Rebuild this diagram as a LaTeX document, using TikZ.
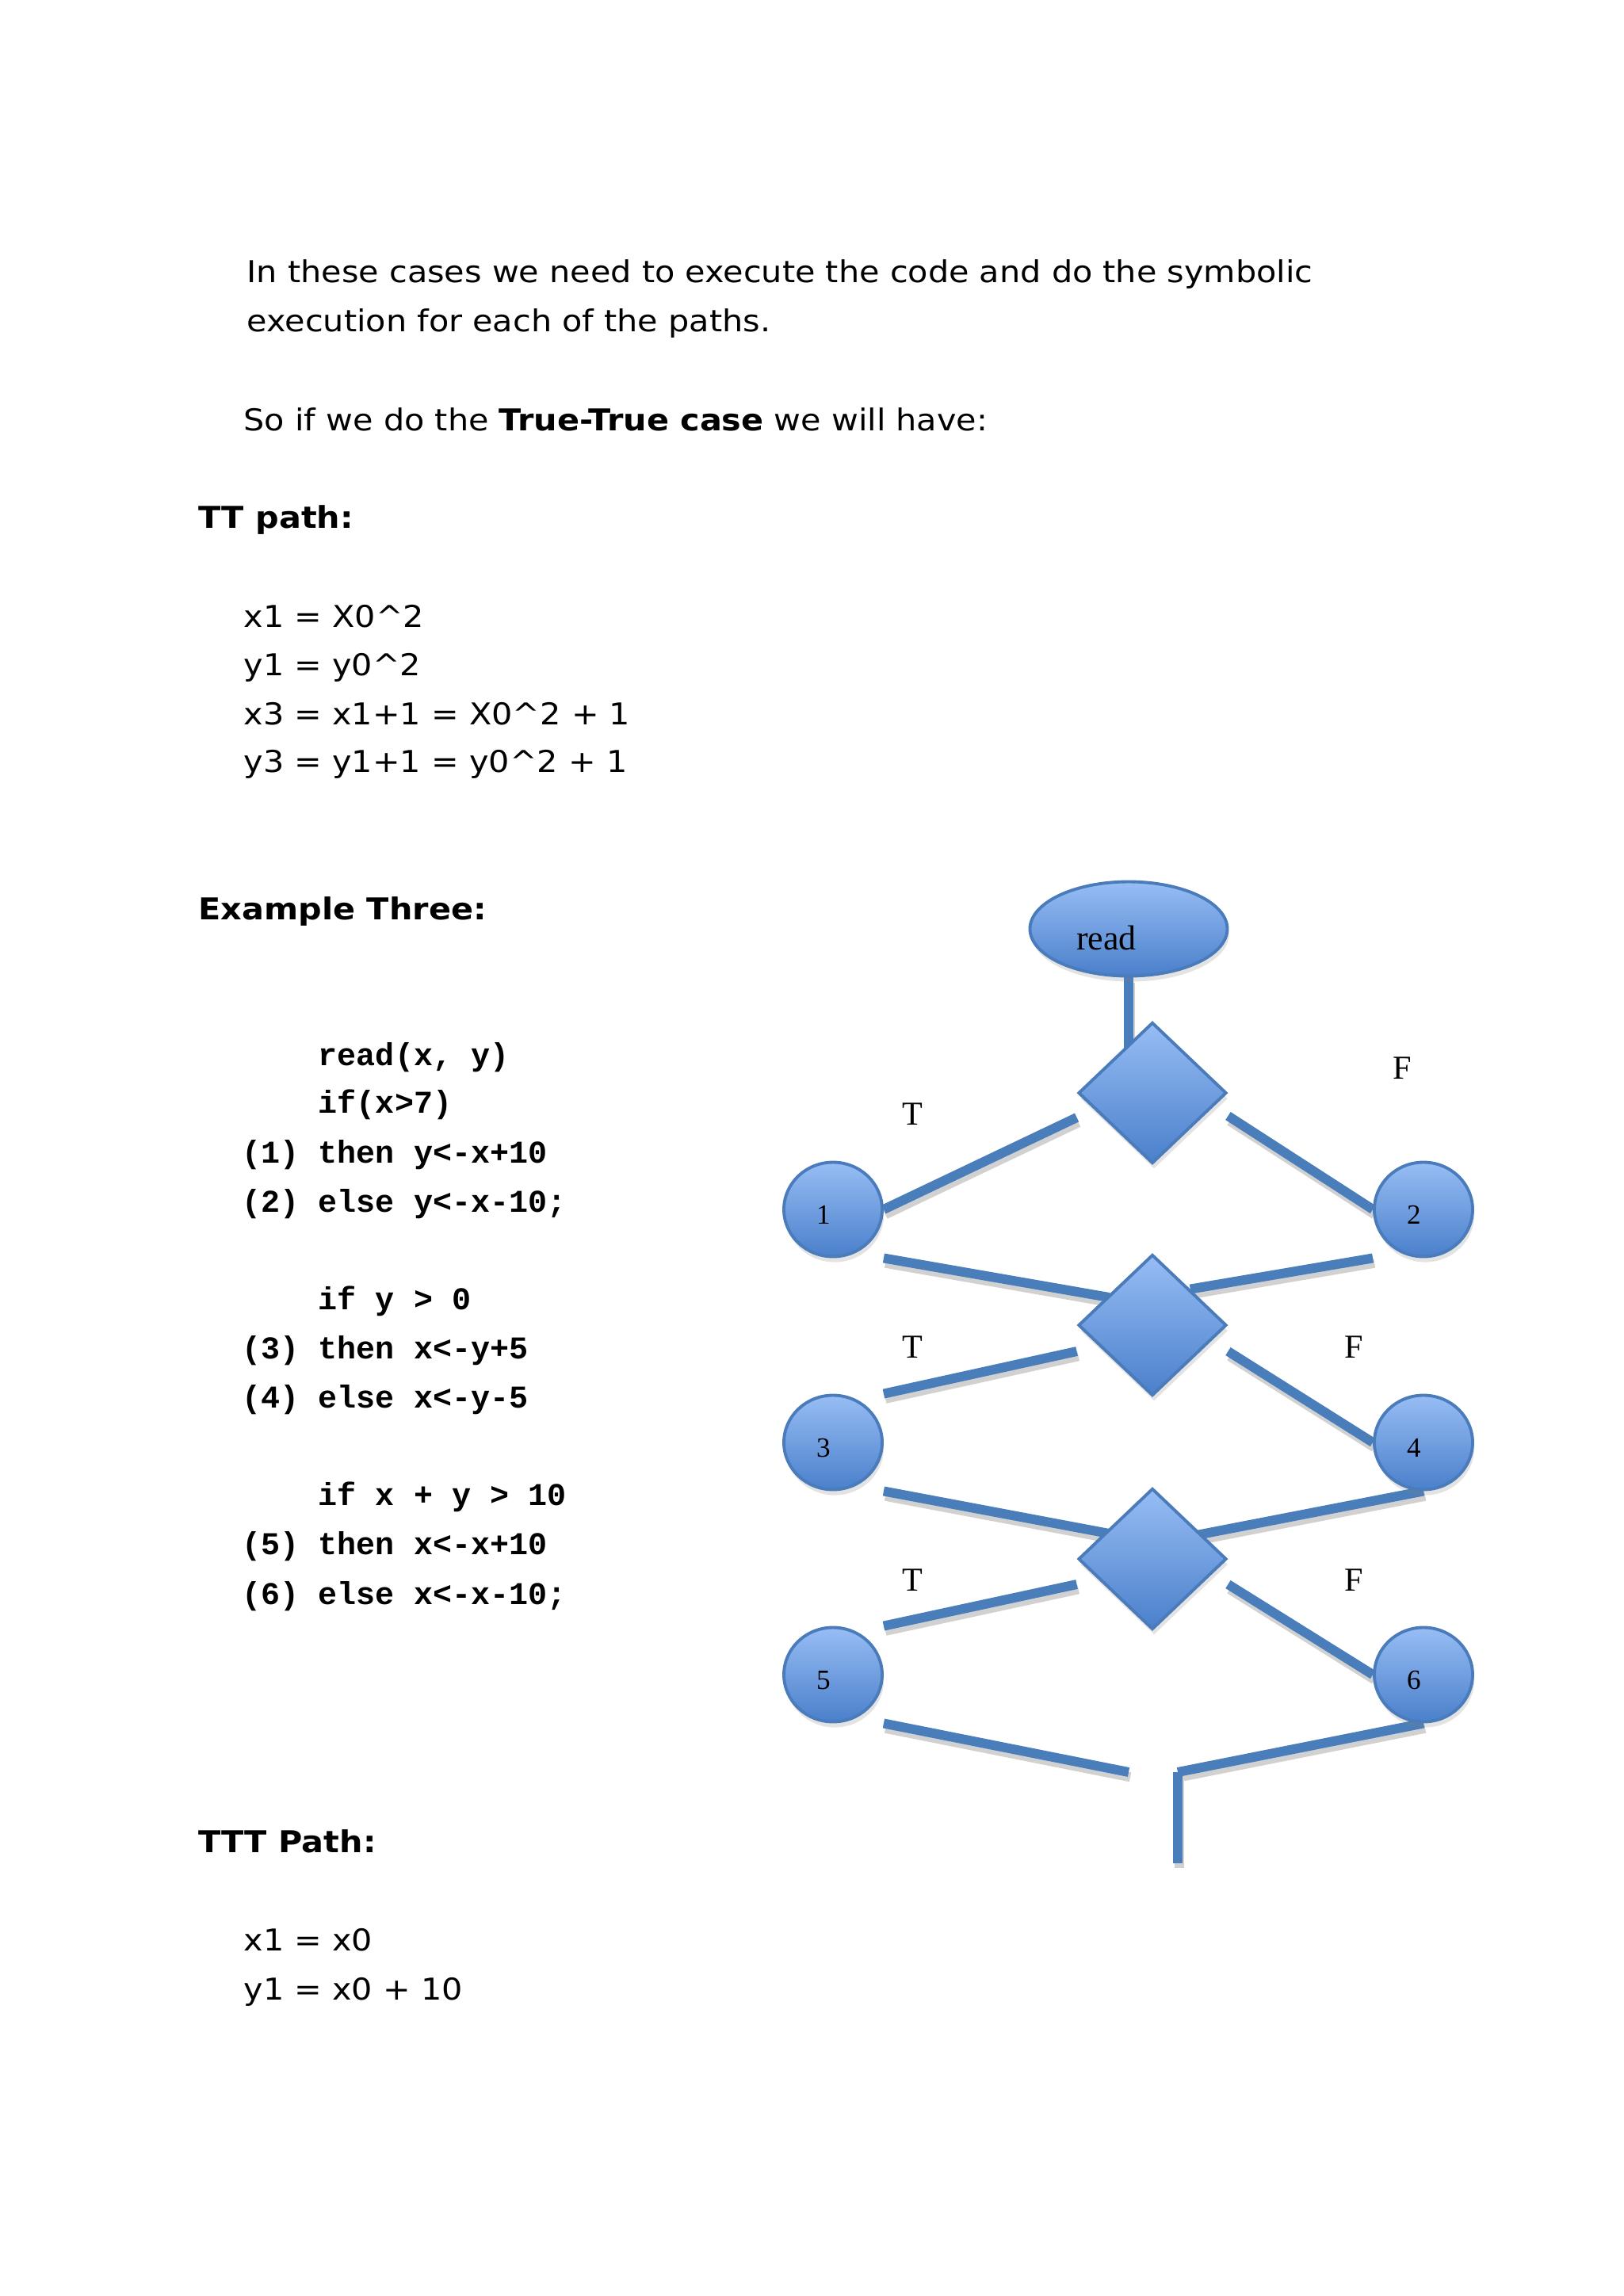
\documentclass[tikz,border=0pt]{standalone}
\usepackage{fontspec}
\setmainfont{DejaVu Sans}[FakeStretch=1.09]
\newfontfamily\codefont{Liberation Mono}
\newfontfamily\chartfont{Liberation Serif}
\usetikzlibrary{shapes.geometric,shadows,calc,backgrounds}
\definecolor{shapetop}{HTML}{97BDF4}
\definecolor{shapebottom}{HTML}{4A80CB}
\definecolor{shapeline}{HTML}{4A7BBA}
\definecolor{wireblue}{HTML}{4A7EBB}
\tikzset{
  prose/.style={anchor=base west, inner sep=0, font=\fontsize{10.8}{13}\selectfont},
  head/.style={prose, font=\fontsize{10.8}{13}\selectfont\bfseries},
  code/.style={anchor=base west, inner sep=0, font=\fontsize{11.4}{13}\selectfont\codefont\bfseries},
  blob/.style={draw=shapeline, line width=1.1pt, top color=shapetop, bottom color=shapebottom,
    drop shadow={opacity=0.22, shadow xshift=0.6pt, shadow yshift=-2pt}},
  start/.style={blob, ellipse, minimum width=2.49cm, minimum height=1.19cm, inner sep=0,
    label={[font=\chartfont\fontsize{12.5}{14}\selectfont, xshift=-0.28cm, yshift=-0.11cm]center:#1}},
  stmt/.style={blob, ellipse, minimum width=1.24cm, minimum height=1.19cm, inner sep=0,
    label={[font=\chartfont\fontsize{10}{12}\selectfont, xshift=-0.12cm, yshift=-0.07cm]center:#1}},
  test/.style={blob, diamond, minimum width=1.87cm, minimum height=1.78cm, inner sep=0},
  wire/.style={draw=wireblue, line width=3.4pt,
    preaction={draw=black!18, line width=3.4pt, transform canvas={shift={(0.6pt,-1.8pt)}}}},
  branch/.style={inner sep=0, font=\chartfont\fontsize{12}{14}\selectfont},
}
\begin{document}
\begin{tikzpicture}
\useasboundingbox (0,0) rectangle (20.48,-28.97);

% text column
\node[prose] (intro1) at (3.11,-3.56) {In these cases we need to execute the code and do the symbolic};
\node[prose] (intro2) at (3.11,-4.18) {execution for each of the paths.};
\node[prose] (sotext) at (3.07,-5.43) {So if we do the \textbf{True-True case} we will have:};
\node[head] (tthead) at (2.50,-6.66) {TT path:};
\node[prose] (tt1) at (3.07,-7.91) {x1 = X0\textasciicircum 2};
\node[prose] (tt2) at (3.07,-8.52) {y1 = y0\textasciicircum 2};
\node[prose] (tt3) at (3.07,-9.14) {x3 = x1+1 = X0\textasciicircum 2 + 1};
\node[prose] (tt4) at (3.07,-9.74) {y3 = y1+1 = y0\textasciicircum 2 + 1};
\node[head] (exhead) at (2.50,-11.60) {Example Three:};

% program
\node[code] (c0) at (3.05,-13.44) {\hphantom{(1) }read(x, y)};
\node[code] (c1) at (3.05,-14.04) {\hphantom{(1) }if(x>7)};
\node[code] (c2) at (3.05,-14.67) {(1) then y<-x+10};
\node[code] (c3) at (3.05,-15.29) {(2) else y<-x-10;};
\node[code] (c4) at (3.05,-16.52) {\hphantom{(1) }if y > 0};
\node[code] (c5) at (3.05,-17.14) {(3) then x<-y+5};
\node[code] (c6) at (3.05,-17.76) {(4) else x<-y-5};
\node[code] (c7) at (3.05,-18.99) {\hphantom{(1) }if x + y > 10};
\node[code] (c8) at (3.05,-19.61) {(5) then x<-x+10};
\node[code] (c9) at (3.05,-20.24) {(6) else x<-x-10;};

\node[head] (ttthead) at (2.50,-23.37) {TTT Path:};
\node[prose] (ttt1) at (3.07,-24.61) {x1 = x0};
\node[prose] (ttt2) at (3.07,-25.23) {y1 = x0 + 10};

% flow graph
\node[start=read] (read) at (14.24,-11.72) {};
\node[test] (if1) at (14.54,-13.79) {};
\node[test] (if2) at (14.54,-16.72) {};
\node[test] (if3) at (14.54,-19.67) {};
\node[stmt=1] (s1) at (10.51,-15.26) {};
\node[stmt=2] (s2) at (17.96,-15.26) {};
\node[stmt=3] (s3) at (10.51,-18.20) {};
\node[stmt=4] (s4) at (17.96,-18.20) {};
\node[stmt=5] (s5) at (10.51,-21.13) {};
\node[stmt=6] (s6) at (17.96,-21.13) {};

\node[branch] (t1) at (11.51,-14.06) {T};
\node[branch] (f1) at (17.69,-13.48) {F};
\node[branch] (t2) at (11.51,-17.00) {T};
\node[branch] (f2) at (17.08,-17.00) {F};
\node[branch] (t3) at (11.51,-19.94) {T};
\node[branch] (f3) at (17.08,-19.94) {F};

\coordinate (joinl) at (14.24,-22.36);
\coordinate (joinr) at (14.86,-22.36);
\coordinate (exit) at (14.86,-23.51);

\begin{scope}[on background layer]
\draw[wire] (read.south) -- (read.south |- if1.center);
\draw[wire] ($(if1.west)+(0,-0.31)$) -- (s1.east);
\draw[wire] ($(if1.east)+(0,-0.29)$) -- (s2.west);
\draw[wire] (s1.east |- s1.south) -- ($(if2.west)+(0.41,0.35)$);
\draw[wire] (s2.west |- s2.south) -- (if2.north east);
\draw[wire] ($(if2.west)+(0,-0.33)$) -- (s3.east |- s3.north);
\draw[wire] ($(if2.east)+(0,-0.33)$) -- (s4.west);
\draw[wire] (s3.east |- s3.south) -- ($(if3.west)+(0.41,0.32)$);
\draw[wire] (s4.south) -- ($(if3.east)+(-0.40,0.30)$);
\draw[wire] ($(if3.west)+(0,-0.32)$) -- (s5.east |- s5.north);
\draw[wire] ($(if3.east)+(0,-0.32)$) -- (s6.west);
\draw[wire] (s5.east |- s5.south) -- (joinl);
\draw[wire] (s6.south) -- (joinr);
\draw[wire] (joinr) -- (exit);
\end{scope}
\end{tikzpicture}
\end{document}
